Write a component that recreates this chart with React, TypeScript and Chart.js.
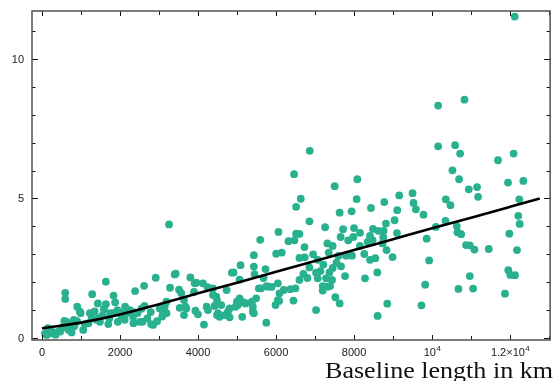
import React, { useEffect, useRef } from "react";
import { Chart, registerables } from "chart.js";

Chart.register(...registerables);

// Scatter measurements: baseline length (km) and value
const baselineKm = [
  77, 120, 248, 256, 417, 468, 682, 1057, 575, 631,
  596, 596, 801, 818, 831, 903, 972, 990, 1189, 1228,
  1261, 1279, 1287, 1398, 1432, 1450, 1484, 1586, 1637, 1637,
  1726, 1748, 1824, 1834, 1876, 1936, 1944, 2046, 2123, 2131,
  2166, 2336, 2345, 2345, 2387, 2507, 2576, 2617, 2627, 2788,
  2796, 2848, 2916, 3018, 3082, 3103, 150, 350, 520, 700,
  760, 900, 1100, 1350, 1550, 1700, 2000, 2250, 2450, 2700,
  2950, 2550,
  3146, 3190, 3189, 3257, 3283, 3402, 3428, 3513, 3530, 3573,
  3640, 3640, 3676, 3701, 3804, 3896, 3914, 3932, 3957, 3998,
  4126, 4152, 4220, 4246, 4254, 4383, 4383, 4425, 4468, 4485,
  4485, 4511, 4553, 4596, 4681, 4732, 4766, 4809, 4809, 4868,
  4911, 4963, 4996, 5022, 5065, 5065, 5090, 5133, 5175, 5218,
  5380, 5405, 5405, 5431, 5431, 5431, 5448, 5491, 5559, 5594,
  5619, 5679, 5730, 5750, 5755, 5789, 5883, 5986, 6003, 6045,
  6045, 6062, 6080, 6088, 6147, 6198, 6318, 6369, 6446, 6463,
  6472, 6497, 6514, 6514, 6600, 6600, 6600, 6634,
  6728, 6736, 6804, 6855, 6855, 6864, 7026, 7026, 7068, 7068,
  7137, 7196, 7196, 7213, 7257, 7283, 7316, 7324, 7350, 7367,
  7385, 7436, 7452, 7503, 7520, 7598, 7630, 7630, 7656, 7666,
  7718, 7769, 7794, 7937, 7947, 7981, 7999, 8066, 8083, 8153,
  8262, 8280, 8347, 8408, 8408, 8433, 8475, 8484, 8544, 8595,
  8603, 8621, 8731, 8748, 8757, 8774, 8817, 8833, 8851, 8987,
  9038, 9099, 9107, 9158, 9499, 9524, 9584, 9728, 9779, 9823,
  9860, 9925, 6950, 7450, 7550, 7850, 8150, 6700,
  10096, 10155, 10155, 10343, 10351, 10471, 10522, 10590, 10633, 10650,
  10675, 10692, 10718, 10744, 10830, 10871, 10940, 10966, 10966, 11051,
  11085, 11153, 11178, 11452, 11690, 11869, 11946, 11954, 11980, 12005,
  12090, 12117, 12125, 12176, 12210, 12235, 12245, 12338,
];

const measuredValues = [
  0.16, 0.11, 0.17, 0.23, 0.23, 0.23, 0.29, 0.29, 0.61, 0.58,
  1.62, 1.40, 0.41, 0.65, 0.43, 1.12, 0.94, 0.89, 0.53, 0.89,
  0.86, 0.71, 1.57, 0.65, 1.24, 0.71, 0.58, 1.03, 2.02, 1.21,
  0.71, 0.89, 0.89, 1.52, 1.28, 1.00, 0.58, 0.76, 0.65, 1.12,
  0.89, 0.76, 0.93, 0.53, 1.68, 0.58, 0.58, 1.87, 1.15, 0.93,
  0.50, 0.47, 2.16, 1.06, 0.77, 0.94, 0.35, 0.12, 0.38, 0.45,
  0.20, 0.60, 0.50, 0.95, 0.80, 0.50, 0.90, 1.00, 0.90, 0.70,
  0.60, 1.05,
  1.12, 0.89, 1.30, 4.07, 1.80, 2.28, 2.31, 1.73, 1.08, 1.60,
  1.36, 0.82, 1.12, 1.06, 2.17, 1.65, 1.96, 0.98, 1.98, 0.85,
  1.96, 0.48, 1.12, 1.82, 1.00, 1.78, 1.54, 1.15, 1.48, 1.36,
  0.82, 0.89, 0.76, 1.18, 0.82, 1.72, 0.94, 0.74, 1.06, 2.34,
  2.35, 1.12, 1.30, 1.18, 1.42, 2.09, 2.61, 0.76, 1.28, 1.24,
  1.30, 1.12, 0.94, 0.89, 2.97, 2.56, 2.29, 1.42, 1.78, 3.52,
  1.78, 2.15, 2.47, 0.55, 1.86, 1.84, 1.83, 1.18, 3.02, 1.96,
  1.36, 3.80, 1.33, 1.60, 3.06, 1.72, 3.47, 1.75, 1.34, 5.87,
  3.50, 1.78, 4.70, 3.74, 2.08, 2.87, 3.73, 4.99,
  3.26, 2.89, 2.15, 4.18, 2.53, 6.71, 2.34, 1.00, 2.80, 2.14,
  2.40, 1.86, 1.70, 2.63, 3.97, 2.14, 3.39, 1.84, 3.06, 2.35,
  1.86, 2.08, 2.51, 5.44, 1.46, 2.94, 4.49, 1.24, 3.62, 2.57,
  3.90, 2.22, 2.95, 4.54, 2.95, 3.62, 3.94, 4.98, 5.69, 3.77,
  3.01, 2.14, 3.44, 3.66, 2.80, 4.66, 3.51, 3.91, 2.86, 2.35,
  0.79, 3.84, 3.39, 3.61, 3.84, 4.87, 4.10, 3.15, 1.23, 2.90,
  4.22, 3.76, 4.58, 5.11, 5.19, 4.84, 4.61, 1.17, 4.42, 1.91,
  3.56, 2.78, 3.00, 3.30, 2.70, 3.50, 3.30, 2.30,
  3.98, 8.33, 6.87, 4.20, 4.97, 4.76, 6.01, 6.91, 4.01, 3.79,
  1.76, 5.69, 6.61, 3.72, 8.54, 3.33, 5.33, 3.32, 2.22, 1.77,
  3.17, 5.41, 5.06, 3.19, 6.37, 1.59, 5.57, 2.43, 3.74, 2.26,
  6.61, 11.52, 2.25, 3.15, 4.38, 4.97, 4.09, 5.63,
];

// Fitted trend curve
const fitKm = [0, 1000, 2000, 3000, 4000, 5000, 6000, 7000, 8000, 9000, 10000, 11000, 12000, 12760];
const fitValues = [0.35, 0.55, 0.84, 1.21, 1.6, 1.98, 2.37, 2.76, 3.15, 3.54, 3.93, 4.31, 4.7, 5.0];

// Axes ticks
const xMajorTicks = [0, 2000, 4000, 6000, 8000, 10000, 12000];
const xTickLabels = ["0", "2000", "4000", "6000", "8000", "10^4", "1.2\u00d710^4"];
const xMinorTicks = [1000, 3000, 5000, 7000, 9000, 11000, 13000];
const yMajorTicks = [0, 5, 10];
const yTickLabels = ["0", "5", "10"];
const yMinorTicks = [1, 2, 3, 4, 6, 7, 8, 9, 11];
const xAxisTitle = "Baseline length in km";

const X_MIN = -256;
const X_MAX = 13025;
const Y_MIN = -0.072;
const Y_MAX = 11.72;

const framePlugin = {
  id: "framePlugin",
  afterDraw(chart: any) {
    const { ctx, chartArea: a, scales } = chart;
    const xs = scales.x;
    const ys = scales.y;
    ctx.save();

    // inward ticks
    ctx.strokeStyle = "#111";
    ctx.lineWidth = 1;
    const seg = (x1: number, y1: number, x2: number, y2: number) => {
      ctx.beginPath();
      ctx.moveTo(x1, y1);
      ctx.lineTo(x2, y2);
      ctx.stroke();
    };
    const xTick = (v: number, len: number) => {
      const px = Math.round(xs.getPixelForValue(v)) + 0.5;
      if (px < a.left || px > a.right) return;
      seg(px, a.bottom, px, a.bottom - len);
      seg(px, a.top, px, a.top + len);
    };
    const yTick = (v: number, len: number) => {
      const py = Math.round(ys.getPixelForValue(v)) + 0.5;
      if (py < a.top || py > a.bottom) return;
      seg(a.left, py, a.left + len, py);
      seg(a.right, py, a.right - len, py);
    };
    xMajorTicks.forEach((v) => xTick(v, 5));
    xMinorTicks.forEach((v) => xTick(v, 4));
    yMajorTicks.forEach((v) => yTick(v, 6));
    yMinorTicks.forEach((v) => yTick(v, 3.5));

    // frame
    ctx.strokeStyle = "#505050";
    ctx.lineWidth = 1.5;
    ctx.strokeRect(a.left, a.top, a.right - a.left, a.bottom - a.top);

    // tick labels
    ctx.fillStyle = "#1a1a1a";
    const baseFont = '11px "Liberation Sans", Arial, sans-serif';
    const supFont = '8px "Liberation Sans", Arial, sans-serif';
    ctx.textBaseline = "alphabetic";
    xMajorTicks.forEach((v, i) => {
      const label = xTickLabels[i];
      const px = xs.getPixelForValue(v);
      const [base, sup] = label.split("^");
      ctx.font = baseFont;
      const wb = ctx.measureText(base).width;
      let ws = 0;
      if (sup) {
        ctx.font = supFont;
        ws = ctx.measureText(sup).width;
      }
      const start = px - (wb + ws) / 2;
      const baseline = 356;
      ctx.font = baseFont;
      ctx.textAlign = "left";
      ctx.fillText(base, start, baseline);
      if (sup) {
        ctx.font = supFont;
        ctx.fillText(sup, start + wb + 0.5, baseline - 5);
      }
    });
    ctx.font = baseFont;
    ctx.textAlign = "right";
    ctx.textBaseline = "middle";
    yMajorTicks.forEach((v, i) => {
      const py = ys.getPixelForValue(v);
      ctx.fillText(yTickLabels[i], 24, py + 0.5);
    });

    // axis title
    ctx.font = '23.5px "Liberation Serif", "Times New Roman", serif';
    ctx.fillStyle = "#111";
    ctx.textAlign = "left";
    ctx.textBaseline = "alphabetic";
    const w = ctx.measureText(xAxisTitle).width;
    const targetW = 228;
    ctx.translate(553 - targetW, 377.5);
    ctx.scale(targetW / w, 1);
    ctx.fillText(xAxisTitle, 0, 0);

    ctx.restore();
  },
};

export default function App() {
  const canvasRef = useRef<HTMLCanvasElement | null>(null);

  useEffect(() => {
    document.body.style.margin = "0";
    const canvas = canvasRef.current;
    if (!canvas) return;
    const scatterData = baselineKm.map((x, i) => ({ x, y: measuredValues[i] }));
    const fitData = fitKm.map((x, i) => ({ x, y: fitValues[i] }));
    const chart = new Chart(canvas, {
      type: "scatter",
      data: {
        datasets: [
          {
            type: "line",
            label: "fit",
            data: fitData,
            borderColor: "#000000",
            borderWidth: 2.6,
            pointRadius: 0,
            fill: false,
            cubicInterpolationMode: "monotone",
            order: 0,
          } as any,
          {
            label: "data",
            data: scatterData,
            backgroundColor: "#29b18f",
            borderWidth: 0,
            pointRadius: 3.9,
            pointHoverRadius: 3.9,
            order: 1,
          },
        ],
      },
      options: {
        animation: false,
        responsive: false,
        devicePixelRatio: 1,
        layout: { padding: { left: 32, right: 3, top: 11, bottom: 41 } },
        plugins: { legend: { display: false }, tooltip: { enabled: false } },
        scales: {
          x: { type: "linear", min: X_MIN, max: X_MAX, display: false },
          y: { type: "linear", min: Y_MIN, max: Y_MAX, display: false },
        },
      },
      plugins: [framePlugin],
    });
    return () => chart.destroy();
  }, []);

  return (
    <div style={{ width: 554, height: 381 }}>
      <canvas ref={canvasRef} width={554} height={381} style={{ display: "block" }} />
    </div>
  );
}
